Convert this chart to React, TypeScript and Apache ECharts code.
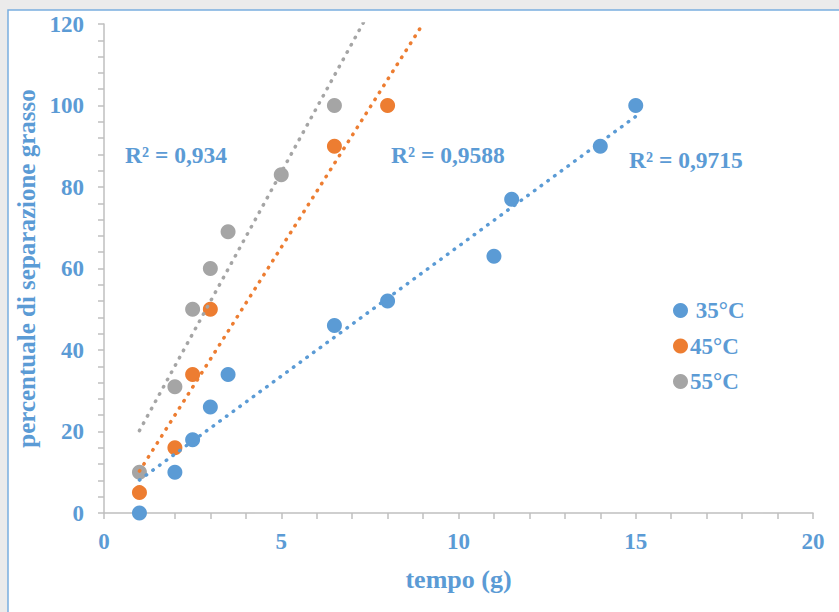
import React, { useEffect, useRef } from "react";
import * as echarts from "echarts";

const seriesNames = ["35°C", "45°C", "55°C"];
const seriesColors = ["#5b9bd5", "#ed7d31", "#a5a5a5"];

const x35 = [1, 2, 2.5, 3, 3.5, 6.5, 8, 11, 11.5, 14, 15];
const y35 = [0, 10, 18, 26, 34, 46, 52, 63, 77, 90, 100];

const x45 = [1, 2, 2.5, 3, 6.5, 8];
const y45 = [5, 16, 34, 50, 90, 100];

const x55 = [1, 2, 2.5, 3, 3.5, 5, 6.5];
const y55 = [10, 31, 50, 60, 69, 83, 100];

// trendline forward forecast (in x units), as set in the original chart
const forwardForecast = [0, 1, 1];

const r2Labels = ["R² = 0,9715", "R² = 0,9588", "R² = 0,934"];

const xName = "tempo (g)";
const yName = "percentuale di separazione grasso";

const BLUE = "#5b9bd5";
const FONT = "'Liberation Serif', 'Times New Roman', serif";

function linreg(xs: number[], ys: number[]) {
  const n = xs.length;
  const mx = xs.reduce((a, b) => a + b, 0) / n;
  const my = ys.reduce((a, b) => a + b, 0) / n;
  let sxy = 0;
  let sxx = 0;
  for (let i = 0; i < n; i++) {
    sxy += (xs[i] - mx) * (ys[i] - my);
    sxx += (xs[i] - mx) * (xs[i] - mx);
  }
  const m = sxy / sxx;
  return { m, b: my - m * mx };
}

export default function App() {
  const ref = useRef<HTMLDivElement>(null);

  useEffect(() => {
    document.body.style.margin = "0";
    if (!ref.current) return;
    const chart = echarts.init(ref.current, undefined, { renderer: "svg" });

    const xsAll = [x35, x45, x55];
    const ysAll = [y35, y45, y55];

    const scatterSeries = seriesNames.map((name, i) => ({
      type: "scatter",
      name,
      data: xsAll[i].map((x, j) => [x, ysAll[i][j]]),
      symbol: "circle",
      symbolSize: 15,
      itemStyle: { color: seriesColors[i], opacity: 1 },
      z: 2,
    }));

    const trendSeries = seriesNames.map((name, i) => {
      const xs = xsAll[i];
      const { m, b } = linreg(xs, ysAll[i]);
      const x0 = Math.min(...xs);
      const x1 = Math.max(...xs) + forwardForecast[i];
      return {
        type: "line",
        name: name + " trend",
        data: [
          [x0, m * x0 + b],
          [x1, m * x1 + b],
        ],
        showSymbol: false,
        symbol: "none",
        clip: true,
        silent: true,
        lineStyle: {
          color: seriesColors[i],
          width: 3.5,
          type: [0.5, 7.8],
          cap: "round",
        },
        z: 3,
      };
    });

    const labelStyle = {
      color: BLUE,
      fontFamily: FONT,
      fontWeight: "bold",
      fontSize: 23,
    };

    chart.setOption({
      animation: false,
      backgroundColor: "#ebebeb",
      graphic: [
        {
          type: "rect",
          shape: { x: 8, y: 10, width: 900, height: 700 },
          style: { fill: "#ffffff", stroke: "#7aaee0", lineWidth: 1.5 },
          z: -10,
          silent: true,
        },
        {
          type: "text",
          x: 629,
          y: 160,
          style: { text: r2Labels[0], fill: BLUE, font: `bold 23.5px ${FONT}`, verticalAlign: "middle" },
          z: 10,
        },
        {
          type: "text",
          x: 391,
          y: 155,
          style: { text: r2Labels[1], fill: BLUE, font: `bold 23.5px ${FONT}`, verticalAlign: "middle" },
          z: 10,
        },
        {
          type: "text",
          x: 125,
          y: 155,
          style: { text: r2Labels[2], fill: BLUE, font: `bold 23.5px ${FONT}`, verticalAlign: "middle" },
          z: 10,
        },
      ],
      grid: { left: 104, top: 24, right: 26, bottom: 99, containLabel: false },
      legend: {
        data: seriesNames,
        orient: "vertical",
        left: 668,
        top: 294,
        itemWidth: 15,
        itemHeight: 15,
        itemGap: 12.5,
        icon: "circle",
        formatter: (n: string) => (n === seriesNames[0] ? " " + n : n),
        textStyle: { ...labelStyle, padding: [0, 0, 0, -3] },
      },
      xAxis: {
        type: "value",
        min: 0,
        max: 20,
        interval: 1,
        name: xName,
        nameLocation: "middle",
        nameGap: 53,
        nameTextStyle: { ...labelStyle, fontSize: 26 },
        axisLine: { show: true, lineStyle: { color: "#bfbfbf", width: 1.5 } },
        axisTick: { show: true, length: 6, lineStyle: { color: "#bfbfbf", width: 1.5 } },
        splitLine: { show: false },
        axisLabel: {
          ...labelStyle,
          margin: 17,
          formatter: (v: number) => (v % 5 === 0 ? String(v) : ""),
        },
      },
      yAxis: {
        type: "value",
        min: 0,
        max: 120,
        interval: 4,
        name: yName,
        nameLocation: "middle",
        nameGap: 58,
        nameTextStyle: { ...labelStyle, fontSize: 25 },
        axisLine: { show: true, lineStyle: { color: "#bfbfbf", width: 1.5 } },
        axisTick: { show: true, length: 6, lineStyle: { color: "#bfbfbf", width: 1.5 } },
        splitLine: { show: false },
        axisLabel: {
          ...labelStyle,
          margin: 20,
          formatter: (v: number) => (v % 20 === 0 ? String(v) : ""),
        },
      },
      series: [...scatterSeries, ...trendSeries],
    });

    return () => chart.dispose();
  }, []);

  return <div ref={ref} style={{ width: 839, height: 612 }} />;
}
